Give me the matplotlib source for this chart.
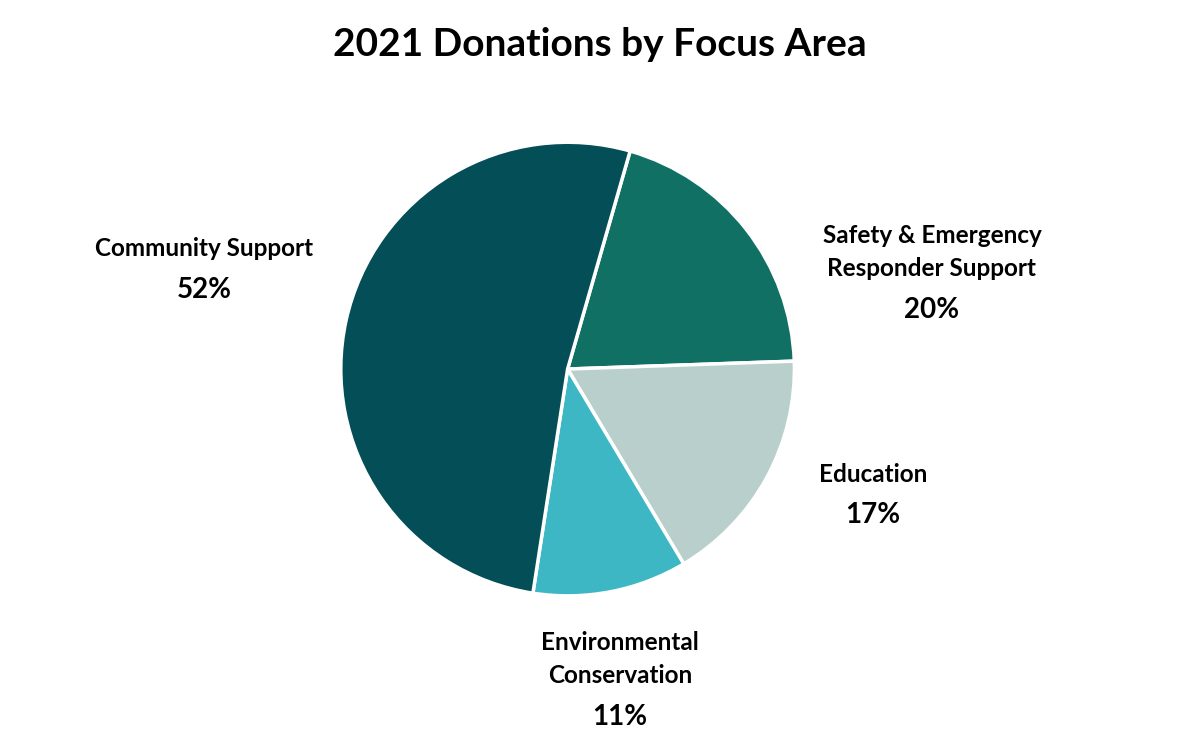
import matplotlib.pyplot as plt

labels = ['Safety & Emergency\nResponder Support', 'Education',
          'Environmental\nConservation', 'Community Support']
values = [20, 17, 11, 52]
colors = ['#117064', '#B8CFCC', '#3DB7C4', '#034E57']
# (x, label centre y, percent y) in pixels
label_pos = [(932, 252, 310), (873, 474, 515), (620, 659, 717), (204, 249, 290)]

plt.rcParams['font.family'] = ['Lato', 'DejaVu Sans']

fig = plt.figure(figsize=(12, 7.52), dpi=100)
fig.patch.set_facecolor('white')
ax = fig.add_axes([0.284, 0.2074, 0.378, 0.6037])
ax.pie(values, colors=colors, startangle=74, counterclock=False,
       wedgeprops=dict(edgecolor='white', linewidth=2.5))
ax.set_xlim(-1, 1)
ax.set_ylim(-1, 1)
ax.set_aspect('equal')

for lab, v, (x, y, py) in zip(labels, values, label_pos):
    fig.text(x / 1200, 1 - y / 752, lab, ha='center', va='center',
             fontsize=17.5, fontweight='bold', linespacing=1.5)
    fig.text(x / 1200, 1 - py / 752, f'{v}%', ha='center', va='center',
             fontsize=20, fontweight='bold')

fig.text(0.5, 1 - 45 / 752, '2021 Donations by Focus Area', ha='center',
         va='center', fontsize=28, fontweight='bold')

fig.savefig('out.png', dpi=100)
